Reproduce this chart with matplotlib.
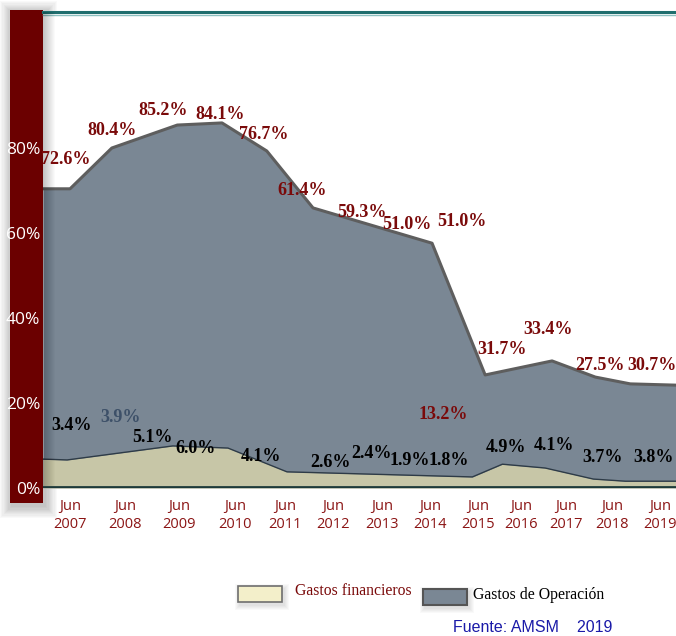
import matplotlib.pyplot as plt
from matplotlib.patches import Rectangle
import numpy as np

# area outlines (decimal year, percent)
oper_x = [2006.45, 2007.0, 2007.85, 2009.18, 2010.09, 2011.0, 2011.94, 2014.36,
          2015.44, 2016.80, 2017.68, 2018.39, 2019.32]
oper_y = [70.4, 70.4, 80.0, 85.4, 85.9, 79.3, 65.9, 57.6, 26.6, 29.9, 26.1, 24.5, 24.2]

fin_x = [2006.45, 2006.94, 2009.09, 2010.21, 2011.41, 2015.18, 2015.79, 2016.66,
         2017.64, 2018.29, 2019.32]
fin_y = [6.8, 6.6, 9.9, 9.4, 3.8, 2.6, 5.6, 4.7, 2.1, 1.6, 1.6]

years = ['2007', '2008', '2009', '2010', '2011', '2012', '2013', '2014',
         '2015', '2016', '2017', '2018', '2019']
year_pos = [2007.0, 2008.12, 2009.22, 2010.36, 2011.37, 2012.35, 2013.35, 2014.32,
            2015.3, 2016.17, 2017.09, 2018.02, 2019.0]

oper_labels = ['72.6%', '80.4%', '85.2%', '84.1%', '76.7%', '61.4%', '59.3%',
               '51.0%', '51.0%', '31.7%', '33.4%', '27.5%', '30.7%', '13.2%']
oper_lx = [2006.92, 2007.85, 2008.89, 2010.05, 2010.93, 2011.72, 2012.94,
           2013.85, 2014.97, 2015.79, 2016.72, 2017.78, 2018.84, 2014.59]
oper_ly = [77.2, 84.2, 88.9, 87.8, 83.1, 70.1, 64.9, 61.9, 62.6, 32.5, 37.2,
           28.9, 28.9, 17.2]

fin_labels = ['3.4%', '3.9%', '5.1%', '6.0%', '4.1%', '2.6%', '2.4%', '1.9%',
              '1.8%', '4.9%', '4.1%', '3.7%', '3.8%']
fin_lx = [2007.04, 2008.02, 2008.67, 2009.56, 2010.88, 2012.29, 2013.12, 2013.91,
          2014.71, 2015.87, 2016.84, 2017.82, 2018.86]
fin_ly = [14.8, 16.7, 12.0, 9.2, 7.3, 6.1, 8.2, 6.4, 6.4, 9.6, 10.1, 7.1, 7.1]

W, H = 676, 636
fig = plt.figure(figsize=(W / 100, H / 100), dpi=100)
fig.patch.set_facecolor('white')

def fx(px):
    return px / W

def fy(py):
    return 1 - py / H

def soft_shadow(x0, y0, w, h, steps=8, spread=1.0):
    # blurred dark patch drawn under a box (pixel coords, y downwards)
    for i in range(steps):
        g = (steps - i) * spread
        fig.add_artist(Rectangle((fx(x0 - g + 2), fy(y0 + h + g + 3)),
                                 (w + 2 * g) / W, (h + 2 * g) / H,
                                 color='black', alpha=0.025, lw=0, zorder=1))

# dark red y-axis band with soft shadow
soft_shadow(10, 10, 33, 493, steps=10, spread=1.2)
fig.add_artist(Rectangle((fx(10), fy(503)), 33 / W, 493 / H,
                         color='#6b0000', lw=0, zorder=2))

ax = fig.add_axes([fx(43), fy(488), 1 - fx(43), (488 - 12) / H])
ax.set_zorder(3)
ax.set_xlim(2006.45, 2019.32)
ax.set_ylim(0, 112)

ax.fill_between(oper_x, oper_y, 0, color='#7a8794', lw=0, zorder=1)
ax.plot(oper_x, oper_y, color='#5e5e5e', lw=2.2, zorder=2)
ax.fill_between(fin_x, fin_y, 0, color='#c7c6a7', lw=0, zorder=3)
ax.plot(fin_x, fin_y, color='#2e3b47', lw=1.0, zorder=4)

# shadow on the left edge of the plot
for i in range(12):
    ax.axvspan(2006.45, 2006.45 + (12 - i) * 0.02, color='black', alpha=0.02,
               lw=0, zorder=5)

ax.axhline(0.3, color='#1d3a3a', lw=2, zorder=6)

for s in ['left', 'right', 'bottom']:
    ax.spines[s].set_visible(False)
ax.spines['top'].set_color('#1f6e6e')
ax.spines['top'].set_linewidth(2.2)
ax.axhline(111.4, color='#8cc0c0', lw=1, zorder=0, clip_on=False)

ax.set_yticks([0, 20, 40, 60, 80])
ax.set_yticklabels(['0%', '20%', '40%', '60%', '80%'], color='white',
                   fontsize=12.5, family='Open Sans')
ax.tick_params(axis='y', length=0, pad=2)

ax.set_xticks(year_pos)
ax.set_xticklabels(['Jun\n' + y for y in years], color='#8b1414', fontsize=10.5,
                   family='Open Sans', linespacing=1.25)
ax.tick_params(axis='x', length=0, pad=8)

serif = 'Liberation Serif'
for t, x, y in zip(oper_labels, oper_lx, oper_ly):
    ax.text(x, y, t, color='#7a0a0a', fontsize=13, fontweight='bold',
            family=serif, ha='center', va='center', zorder=8)
for i, (t, x, y) in enumerate(zip(fin_labels, fin_lx, fin_ly)):
    c = '#3d5068' if i == 1 else 'black'
    ax.text(x, y, t, color=c, fontsize=13, fontweight='bold', family=serif,
            ha='center', va='center', zorder=8)

# legend
soft_shadow(238, 586, 44, 16, steps=5, spread=1.0)
soft_shadow(423, 589, 44, 16, steps=5, spread=1.0)
fig.add_artist(Rectangle((fx(238), fy(602)), 44 / W, 16 / H, facecolor='#f3efca',
                         edgecolor='#6e6e6e', lw=1.2, zorder=2))
fig.text(fx(295), fy(591), 'Gastos financieros', color='#7a0a0a', fontsize=11.3,
         family=serif, va='center', ha='left')
fig.add_artist(Rectangle((fx(423), fy(605)), 44 / W, 16 / H, facecolor='#7a8794',
                         edgecolor='#555555', lw=1.5, zorder=2))
fig.text(fx(473), fy(595), 'Gastos de Operación', color='black', fontsize=11.3,
         family=serif, va='center', ha='left')
fig.text(fx(453), fy(628), 'Fuente: AMSM    2019', color='#1a1aa8', fontsize=11.5,
         family='Liberation Sans', va='center', ha='left')

fig.savefig('out.png', dpi=100)
